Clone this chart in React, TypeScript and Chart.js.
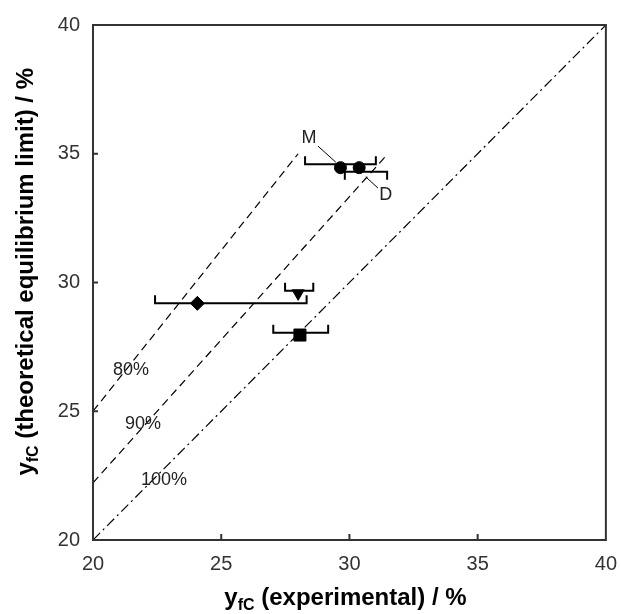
import React, { useEffect, useRef } from 'react';
import { Chart, registerables } from 'chart.js';

Chart.register(...registerables);

const FONT = '"Liberation Sans", Arial, Helvetica, sans-serif';

// axis
const axisMin = 20;
const axisMax = 40;
const tickStep = 5;
const innerTicks = [25, 30, 35];

// reference lines (y_theo = y_exp / efficiency)
const line80X = [20, 28];
const line80Y = [25, 35];
const line90X = [20, 31.5];
const line90Y = [22.22, 35];
const line100X = [20, 40];
const line100Y = [20, 40];

const lineLabels = ['80%', '90%', '100%'];
const lineLabelX = [21.48, 21.95, 22.77];
const lineLabelY = [26.6, 24.5, 22.33];

// experimental points
const pointNames = ['M', 'D', 'diamond', 'triangle', 'square'];
const pointStyles = ['circle', 'circle', 'rectRot', 'triangle', 'rect'];
const pointRadii = [6, 6, 7, 7, 8.5];
const pointRotation = [0, 0, 0, 180, 0];
const xExp = [29.65, 30.38, 24.07, 28.0, 28.07];
const yTheo = [34.46, 34.46, 29.19, 29.58, 27.96];
const xErrLow = [28.27, 29.82, 22.42, 27.49, 27.03];
const xErrHigh = [31.03, 31.47, 28.33, 28.59, 29.17];
const barY = [34.59, 34.3, 29.19, 29.68, 28.05];
const capDir = [-1, 1, -1, -1, -1]; // -1 = cap up, 1 = cap down

// annotations
const annoText = ['M', 'D'];
const annoTextX = [28.42, 31.42];
const annoTextY = [35.61, 33.4];
const leaderX1 = [28.77, 31.11];
const leaderY1 = [35.3, 33.67];
const leaderX2 = [29.47, 30.64];
const leaderY2 = [34.67, 34.1];

const TITLE_SIZE = 24;
const SUB_SIZE = 16;

function drawSubTitle(ctx: CanvasRenderingContext2D, x: number, y: number) {
  ctx.font = `bold ${TITLE_SIZE}px ${FONT}`;
  ctx.fillText('y', x, y);
  const w1 = ctx.measureText('y').width;
  ctx.font = `bold ${SUB_SIZE}px ${FONT}`;
  ctx.fillText('fC', x + w1, y + 5);
  const w2 = ctx.measureText('fC').width;
  return w1 + w2;
}

function measureTitle(ctx: CanvasRenderingContext2D, rest: string) {
  ctx.font = `bold ${TITLE_SIZE}px ${FONT}`;
  const w1 = ctx.measureText('y').width;
  const w3 = ctx.measureText(rest).width;
  ctx.font = `bold ${SUB_SIZE}px ${FONT}`;
  const w2 = ctx.measureText('fC').width;
  return w1 + w2 + w3;
}

const customPlugin = {
  id: 'custom',
  beforeDatasetsDraw(chart: any) {
    const ctx = chart.ctx as CanvasRenderingContext2D;
    const xs = chart.scales.x;
    const ys = chart.scales.y;
    ctx.save();
    ctx.strokeStyle = '#000';
    ctx.lineWidth = 2;
    for (let i = 0; i < xExp.length; i++) {
      const x1 = xs.getPixelForValue(xErrLow[i]);
      const x2 = xs.getPixelForValue(xErrHigh[i]);
      const y = ys.getPixelForValue(barY[i]);
      const cap = 8 * capDir[i];
      ctx.beginPath();
      ctx.moveTo(x1, y + cap);
      ctx.lineTo(x1, y);
      ctx.lineTo(x2, y);
      ctx.lineTo(x2, y + cap);
      ctx.stroke();
    }
    ctx.restore();
  },
  afterDraw(chart: any) {
    const ctx = chart.ctx as CanvasRenderingContext2D;
    const xs = chart.scales.x;
    const ys = chart.scales.y;
    const a = chart.chartArea;
    ctx.save();
    // frame
    ctx.strokeStyle = '#333';
    ctx.lineWidth = 2;
    ctx.strokeRect(a.left, a.top, a.right - a.left, a.bottom - a.top);
    // inside ticks
    ctx.beginPath();
    for (const v of innerTicks) {
      const px = xs.getPixelForValue(v);
      ctx.moveTo(px, a.bottom);
      ctx.lineTo(px, a.bottom - 6);
      const py = ys.getPixelForValue(v);
      ctx.moveTo(a.left, py);
      ctx.lineTo(a.left + 5, py);
    }
    ctx.stroke();

    // line labels
    ctx.fillStyle = '#222';
    ctx.font = `18px ${FONT}`;
    ctx.textAlign = 'center';
    ctx.textBaseline = 'middle';
    for (let i = 0; i < lineLabels.length; i++) {
      ctx.fillText(lineLabels[i], xs.getPixelForValue(lineLabelX[i]), ys.getPixelForValue(lineLabelY[i]));
    }
    // annotations
    for (let i = 0; i < annoText.length; i++) {
      ctx.fillText(annoText[i], xs.getPixelForValue(annoTextX[i]), ys.getPixelForValue(annoTextY[i]));
      ctx.strokeStyle = '#000';
      ctx.lineWidth = 1;
      ctx.beginPath();
      ctx.moveTo(xs.getPixelForValue(leaderX1[i]), ys.getPixelForValue(leaderY1[i]));
      ctx.lineTo(xs.getPixelForValue(leaderX2[i]), ys.getPixelForValue(leaderY2[i]));
      ctx.stroke();
    }

    // titles
    ctx.fillStyle = '#000';
    ctx.textAlign = 'left';
    ctx.textBaseline = 'alphabetic';
    const xRest = ' (experimental) / %';
    const wx = measureTitle(ctx, xRest);
    const xStart = (a.left + a.right) / 2 - 4 - wx / 2;
    const xBase = 605;
    const sw = drawSubTitle(ctx, xStart, xBase);
    ctx.font = `bold ${TITLE_SIZE}px ${FONT}`;
    ctx.fillText(xRest, xStart + sw, xBase);

    const yRest = ' (theoretical equilibrium limit) / %';
    const wy = measureTitle(ctx, yRest);
    ctx.translate(33, 68 + wy);
    ctx.rotate(-Math.PI / 2);
    const sw2 = drawSubTitle(ctx, 0, 0);
    ctx.font = `bold ${TITLE_SIZE}px ${FONT}`;
    ctx.fillText(yRest, sw2, 0);
    ctx.restore();
  },
};

export default function App() {
  const ref = useRef<HTMLCanvasElement | null>(null);
  useEffect(() => {
    if (!ref.current) return;
    const toPts = (xa: number[], ya: number[]) => xa.map((x, i) => ({ x, y: ya[i] }));
    const lineDs = (xa: number[], ya: number[], dash: number[]) => ({
      type: 'line' as const,
      data: toPts(xa, ya),
      borderColor: '#000',
      borderWidth: 1.2,
      borderDash: dash,
      pointRadius: 0,
      showLine: true,
      fill: false,
    });
    const markerDs = xExp.map((x, i) => ({
      type: 'scatter' as const,
      label: pointNames[i],
      data: [{ x, y: yTheo[i] }],
      pointStyle: pointStyles[i],
      pointRadius: pointRadii[i],
      pointRotation: pointRotation[i],
      backgroundColor: '#000',
      borderColor: '#000',
      borderWidth: 1,
    }));
    const chart = new Chart(ref.current, {
      type: 'scatter',
      data: {
        datasets: [
          lineDs(line80X, line80Y, [8, 5]),
          lineDs(line90X, line90Y, [8, 5]),
          lineDs(line100X, line100Y, [10, 4, 2, 4]),
          ...markerDs,
        ] as any,
      },
      options: {
        responsive: false,
        animation: false,
        layout: { padding: { top: 25, right: 15, left: 0, bottom: 0 } },
        plugins: { legend: { display: false }, tooltip: { enabled: false } },
        scales: {
          x: {
            type: 'linear',
            min: axisMin,
            max: axisMax,
            grid: { display: false },
            border: { display: false },
            ticks: { stepSize: tickStep, font: { size: 20, family: FONT }, color: '#333', padding: 4 },
            afterFit: (s: any) => { s.height = 74; },
          },
          y: {
            type: 'linear',
            min: axisMin,
            max: axisMax,
            grid: { display: false },
            border: { display: false },
            ticks: { stepSize: tickStep, font: { size: 20, family: FONT }, color: '#333', padding: 5 },
            afterFit: (s: any) => { s.width = 93; },
          },
        },
      } as any,
      plugins: [customPlugin],
    });
    return () => chart.destroy();
  }, []);
  return (
    <div style={{ position: 'absolute', left: 0, top: 0, width: 621, height: 614, background: '#fff' }}>
      <canvas ref={ref} width={621} height={614} />
    </div>
  );
}
